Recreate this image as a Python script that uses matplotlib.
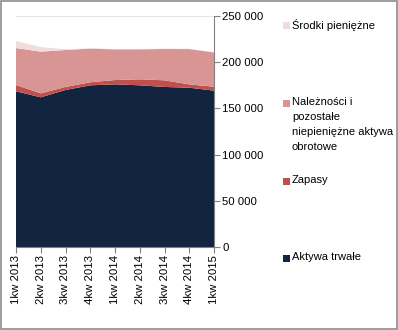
import matplotlib.pyplot as plt
from matplotlib.patches import Rectangle

quarters = ["1kw 2013", "2kw 2013", "3kw 2013", "4kw 2013", "1kw 2014",
            "2kw 2014", "3kw 2014", "4kw 2014", "1kw 2015"]
aktywa_trwale = [168500, 162000, 169900, 175000, 176000, 175000, 173200, 172400, 169200]
zapasy = [6800, 4300, 3300, 3300, 4700, 6500, 7200, 3600, 4300]
naleznosci = [40000, 45100, 40000, 36400, 33200, 32500, 33900, 38200, 37100]
srodki = [7600, 5000, 800, 400, 300, 300, 300, 300, 300]

series = [aktywa_trwale, zapasy, naleznosci, srodki]
names = ["Aktywa trwałe", "Zapasy",
         "Należności i\npozostałe\nniepieniężne aktywa\nobrotowe",
         "Środki pieniężne"]
colors = ["#12243f", "#c0504d", "#d99594", "#f2dcdb"]

plt.rcParams['font.family'] = ['Liberation Sans', 'DejaVu Sans']
fig = plt.figure(figsize=(3.98, 3.30), dpi=100)
ax = fig.add_axes([16 / 398, 1 - 247 / 330, 198 / 398, 231 / 330])

x = list(range(len(quarters)))
ax.stackplot(x, *series, colors=colors, linewidth=0, zorder=2)

ax.set_xlim(0, len(quarters) - 1)
ax.set_ylim(0, 250000)
ax.set_yticks(range(0, 250001, 50000))
ax.set_yticklabels([f"{v:,}".replace(",", " ") for v in range(0, 250001, 50000)],
                   fontsize=8.2)
ax.yaxis.tick_right()
ax.grid(axis='y', color='#e6e6e6', linewidth=0.8, zorder=0)
ax.set_xticks(x)
ax.set_xticklabels(quarters, rotation=90, fontsize=8.2)
ax.tick_params(axis='both', color='#808080', length=4, width=0.8, pad=2)

for side in ['top', 'left']:
    ax.spines[side].set_visible(False)
for side in ['bottom', 'right']:
    ax.spines[side].set_color('#808080')
    ax.spines[side].set_linewidth(0.8)

# legend, placed manually like the Excel one
legend_rows = [(3, 25), (2, 103), (1, 181), (0, 258)]
for idx, ypix in legend_rows:
    fig.patches.append(Rectangle((283 / 398, 1 - (ypix + 4) / 330), 7 / 398, 7 / 330,
                                 facecolor=colors[idx], edgecolor='none',
                                 transform=fig.transFigure))
    fig.text(292 / 398, 1 - (ypix - 6) / 330, names[idx], fontsize=8,
             va='top', ha='left', linespacing=1.62)

fig.patches.append(Rectangle((0.002, 0.002), 0.996, 0.994, fill=False,
                             edgecolor='#8c8c8c', linewidth=1.2,
                             transform=fig.transFigure))

fig.savefig("out.png", dpi=100)
